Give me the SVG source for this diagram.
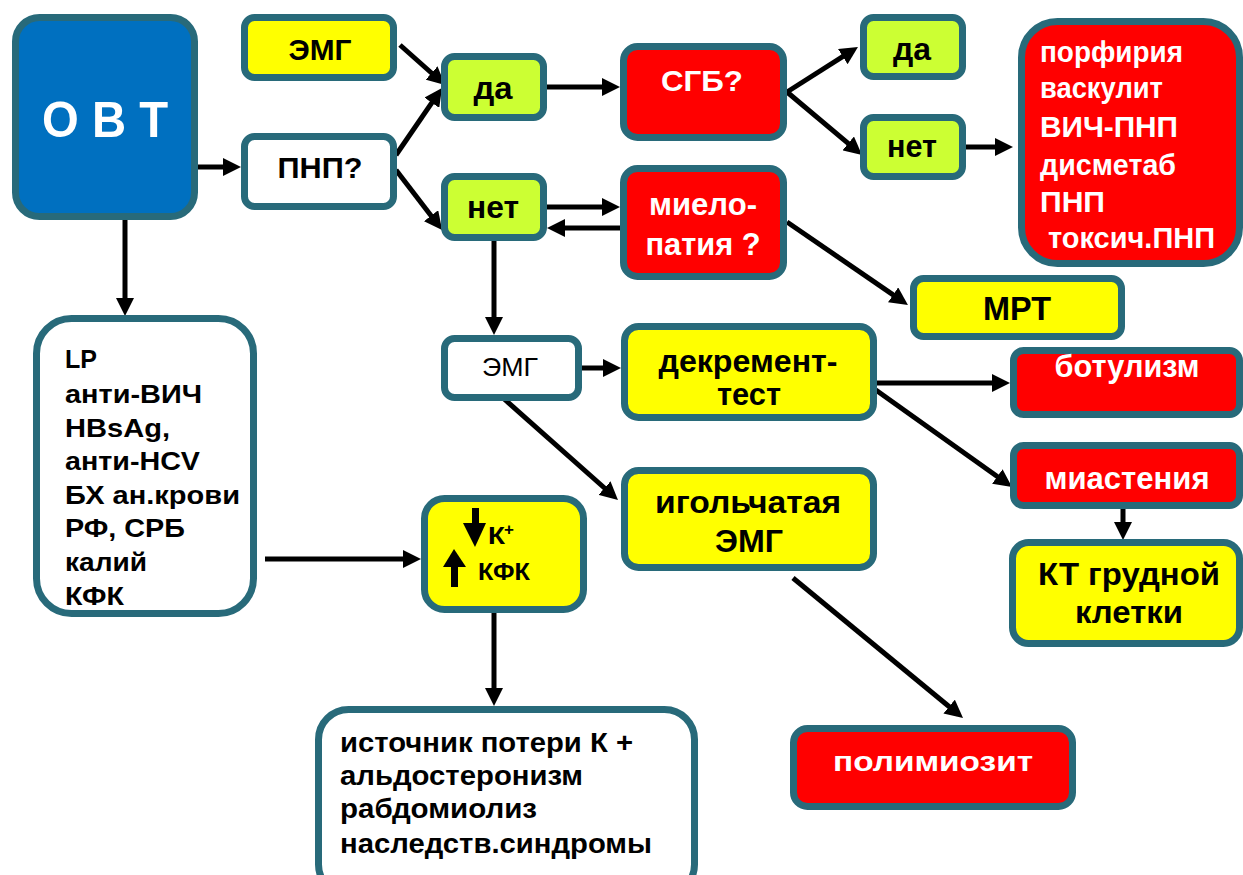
<svg xmlns="http://www.w3.org/2000/svg" width="1243" height="875" viewBox="0 0 1243 875">
<defs>
<style>
.box{stroke:#286A7A;stroke-width:7}
.bl{fill:#0070C0}.wh{fill:#FFFFFF}.ye{fill:#FFFF00}.li{fill:#CCFF33}.re{fill:#FF0000}
text{font-family:"Liberation Sans",Arial,sans-serif;font-weight:bold;fill:#000}
.c{text-anchor:middle}
.w{fill:#FFFFFF}
.conn line{stroke:#000;stroke-width:5;marker-end:url(#ah)}
</style>
<marker id="ah" markerUnits="userSpaceOnUse" markerWidth="18" markerHeight="18" refX="12" refY="9" orient="auto">
<path d="M0,0 L18,9 L0,18 z" fill="#000"/>
</marker>
</defs>
<rect width="1243" height="875" fill="#FFFFFF"/>

<g class="conn">
<line x1="198" y1="167" x2="235" y2="167"/>
<line x1="125" y1="220" x2="125" y2="310"/>
<line x1="400" y1="45" x2="440.5" y2="81"/>
<line x1="396" y1="155" x2="438.6" y2="92.9"/>
<line x1="396" y1="170" x2="438.4" y2="225.2"/>
<line x1="547" y1="87" x2="614" y2="87"/>
<line x1="547" y1="207" x2="614" y2="207"/>
<line x1="621" y1="228" x2="553" y2="228"/>
<line x1="494" y1="241" x2="494" y2="329"/>
<line x1="787" y1="92" x2="852.9" y2="50.2"/>
<line x1="787" y1="92" x2="857.4" y2="151.1"/>
<line x1="966" y1="147" x2="1007" y2="147"/>
<line x1="787" y1="222" x2="903" y2="301.6"/>
<line x1="582" y1="368" x2="615" y2="368"/>
<line x1="503" y1="398" x2="613.5" y2="496"/>
<line x1="877" y1="383" x2="1004" y2="383"/>
<line x1="873" y1="388" x2="1007.1" y2="483.5"/>
<line x1="1123" y1="509" x2="1123" y2="534"/>
<line x1="265" y1="559" x2="415" y2="559"/>
<line x1="494" y1="613" x2="494" y2="700"/>
<line x1="793" y1="578" x2="958.4" y2="714.2"/>
</g>

<g id="ovt"><rect class="box bl" x="15.5" y="17.5" width="179" height="199" rx="24"/>
<text class="c w" x="105" y="137" font-size="50" textLength="126" lengthAdjust="spacingAndGlyphs">О В Т</text></g>

<g id="emg1"><rect class="box ye" x="244.5" y="17.5" width="149" height="60" rx="10"/>
<text class="c" x="320" y="60" font-size="30" textLength="63" lengthAdjust="spacingAndGlyphs">ЭМГ</text></g>

<g id="pnp"><rect class="box wh" x="244.5" y="136.5" width="149" height="70" rx="10"/>
<text class="c" x="320" y="178" font-size="30" textLength="85" lengthAdjust="spacingAndGlyphs">ПНП?</text></g>

<g id="da1"><rect class="box li" x="444.5" y="56.5" width="99" height="61" rx="10"/>
<text class="c" x="493" y="99" font-size="31" textLength="39" lengthAdjust="spacingAndGlyphs">да</text></g>

<g id="net1"><rect class="box li" x="444.5" y="176.5" width="99" height="61" rx="10"/>
<text class="c" x="493" y="218" font-size="31" textLength="52" lengthAdjust="spacingAndGlyphs">нет</text></g>

<g id="sgb"><rect class="box re" x="623.5" y="46.5" width="160" height="91" rx="14"/>
<text class="c w" x="702" y="91" font-size="30" textLength="82" lengthAdjust="spacingAndGlyphs">СГБ?</text></g>

<g id="mielo"><rect class="box re" x="623.5" y="168.5" width="160" height="108" rx="14"/>
<text class="c w" x="703" y="215" font-size="31" textLength="108" lengthAdjust="spacingAndGlyphs">миело-</text>
<text class="c w" x="703" y="255" font-size="31" textLength="115" lengthAdjust="spacingAndGlyphs">патия ?</text></g>

<g id="da2"><rect class="box li" x="863.5" y="17.5" width="99" height="59" rx="10"/>
<text class="c" x="912" y="60" font-size="31" textLength="38" lengthAdjust="spacingAndGlyphs">да</text></g>

<g id="net2"><rect class="box li" x="863.5" y="117.5" width="99" height="59" rx="10"/>
<text class="c" x="912" y="157" font-size="31" textLength="50" lengthAdjust="spacingAndGlyphs">нет</text></g>

<g id="diag1"><rect class="box re" x="1021.5" y="21.5" width="218" height="242" rx="36"/>
<text class="w" x="1040" y="62" font-size="30" textLength="143" lengthAdjust="spacingAndGlyphs">порфирия</text>
<text class="w" x="1040" y="98" font-size="30" textLength="123" lengthAdjust="spacingAndGlyphs">васкулит</text>
<text class="w" x="1040" y="137" font-size="30" textLength="138" lengthAdjust="spacingAndGlyphs">ВИЧ-ПНП</text>
<text class="w" x="1040" y="175" font-size="30" textLength="136" lengthAdjust="spacingAndGlyphs">дисметаб</text>
<text class="w" x="1040" y="212" font-size="30" textLength="65" lengthAdjust="spacingAndGlyphs">ПНП</text>
<text class="w" x="1048" y="248" font-size="30" textLength="167" lengthAdjust="spacingAndGlyphs">токсич.ПНП</text></g>

<g id="mrt"><rect class="box ye" x="913.5" y="278.5" width="208" height="58" rx="10"/>
<text class="c" x="1017" y="320" font-size="33" textLength="68" lengthAdjust="spacingAndGlyphs">МРТ</text></g>

<g id="emg2"><rect class="box wh" x="444.5" y="338.5" width="134" height="59" rx="10"/>
<text class="c" x="510" y="376" font-size="26" style="font-weight:normal" textLength="56" lengthAdjust="spacingAndGlyphs">ЭМГ</text></g>

<g id="dekr"><rect class="box ye" x="624.5" y="326.5" width="249" height="91" rx="14"/>
<text class="c" x="748" y="372" font-size="31" textLength="179" lengthAdjust="spacingAndGlyphs">декремент-</text>
<text class="c" x="749" y="405" font-size="31" textLength="64" lengthAdjust="spacingAndGlyphs">тест</text></g>

<g id="igl"><rect class="box ye" x="624.5" y="470.5" width="249" height="97" rx="14"/>
<text class="c" x="748" y="513" font-size="31" textLength="186" lengthAdjust="spacingAndGlyphs">игольчатая</text>
<text class="c" x="749" y="552" font-size="31" textLength="68" lengthAdjust="spacingAndGlyphs">ЭМГ</text></g>

<g id="botul"><rect class="box re" x="1013.5" y="350.5" width="226" height="64" rx="10"/>
<text class="c w" x="1127" y="377" font-size="31" textLength="145" lengthAdjust="spacingAndGlyphs">ботулизм</text></g>

<g id="miast"><rect class="box re" x="1013.5" y="445.5" width="226" height="60" rx="10"/>
<text class="c w" x="1127" y="489" font-size="31" textLength="165" lengthAdjust="spacingAndGlyphs">миастения</text></g>

<g id="kt"><rect class="box ye" x="1012.5" y="542.5" width="227" height="101" rx="16"/>
<text class="c" x="1129" y="585" font-size="31" textLength="182" lengthAdjust="spacingAndGlyphs">КТ грудной</text>
<text class="c" x="1129" y="623" font-size="31" textLength="108" lengthAdjust="spacingAndGlyphs">клетки</text></g>

<g id="labs"><rect class="box wh" x="36.5" y="318.5" width="217" height="295" rx="35"/>
<text x="65" y="368" font-size="26" textLength="32" lengthAdjust="spacingAndGlyphs">LP</text>
<text x="65" y="403" font-size="26" textLength="137" lengthAdjust="spacingAndGlyphs">анти-ВИЧ</text>
<text x="65" y="437" font-size="26" textLength="105" lengthAdjust="spacingAndGlyphs">HBsAg,</text>
<text x="65" y="470" font-size="26" textLength="135" lengthAdjust="spacingAndGlyphs">анти-HCV</text>
<text x="65" y="504" font-size="26" textLength="175" lengthAdjust="spacingAndGlyphs">БХ ан.крови</text>
<text x="65" y="537" font-size="26" textLength="120" lengthAdjust="spacingAndGlyphs">РФ, СРБ</text>
<text x="65" y="571" font-size="26" textLength="82" lengthAdjust="spacingAndGlyphs">калий</text>
<text x="65" y="605" font-size="26" textLength="59" lengthAdjust="spacingAndGlyphs">КФК</text></g>

<g id="kkfk"><rect class="box ye" x="424.5" y="498.5" width="159" height="111" rx="20"/>
<rect x="472" y="508" width="7" height="17" fill="#000"/>
<path d="M463,523 L486,523 L475,547 z" fill="#000"/>
<path d="M454,549 L466,567 L443,567 z" fill="#000"/>
<rect x="451" y="566" width="7" height="21" fill="#000"/>
<text x="488" y="544" font-size="23" textLength="17" lengthAdjust="spacingAndGlyphs">К</text>
<text x="504" y="535" font-size="17">+</text>
<text x="478" y="580" font-size="23" textLength="52" lengthAdjust="spacingAndGlyphs">КФК</text></g>

<g id="causes"><rect class="box wh" x="318.5" y="709.5" width="376" height="185" rx="30"/>
<text x="340" y="752" font-size="28" textLength="293" lengthAdjust="spacingAndGlyphs">источник потери К +</text>
<text x="340" y="785" font-size="28" textLength="243" lengthAdjust="spacingAndGlyphs">альдостеронизм</text>
<text x="340" y="818" font-size="28" textLength="197" lengthAdjust="spacingAndGlyphs">рабдомиолиз</text>
<text x="340" y="853" font-size="28" textLength="312" lengthAdjust="spacingAndGlyphs">наследств.синдромы</text></g>

<g id="polim"><rect class="box re" x="793.5" y="728.5" width="279" height="78" rx="14"/>
<text class="c w" x="933" y="771" font-size="28" textLength="200" lengthAdjust="spacingAndGlyphs">полимиозит</text></g>
</svg>
